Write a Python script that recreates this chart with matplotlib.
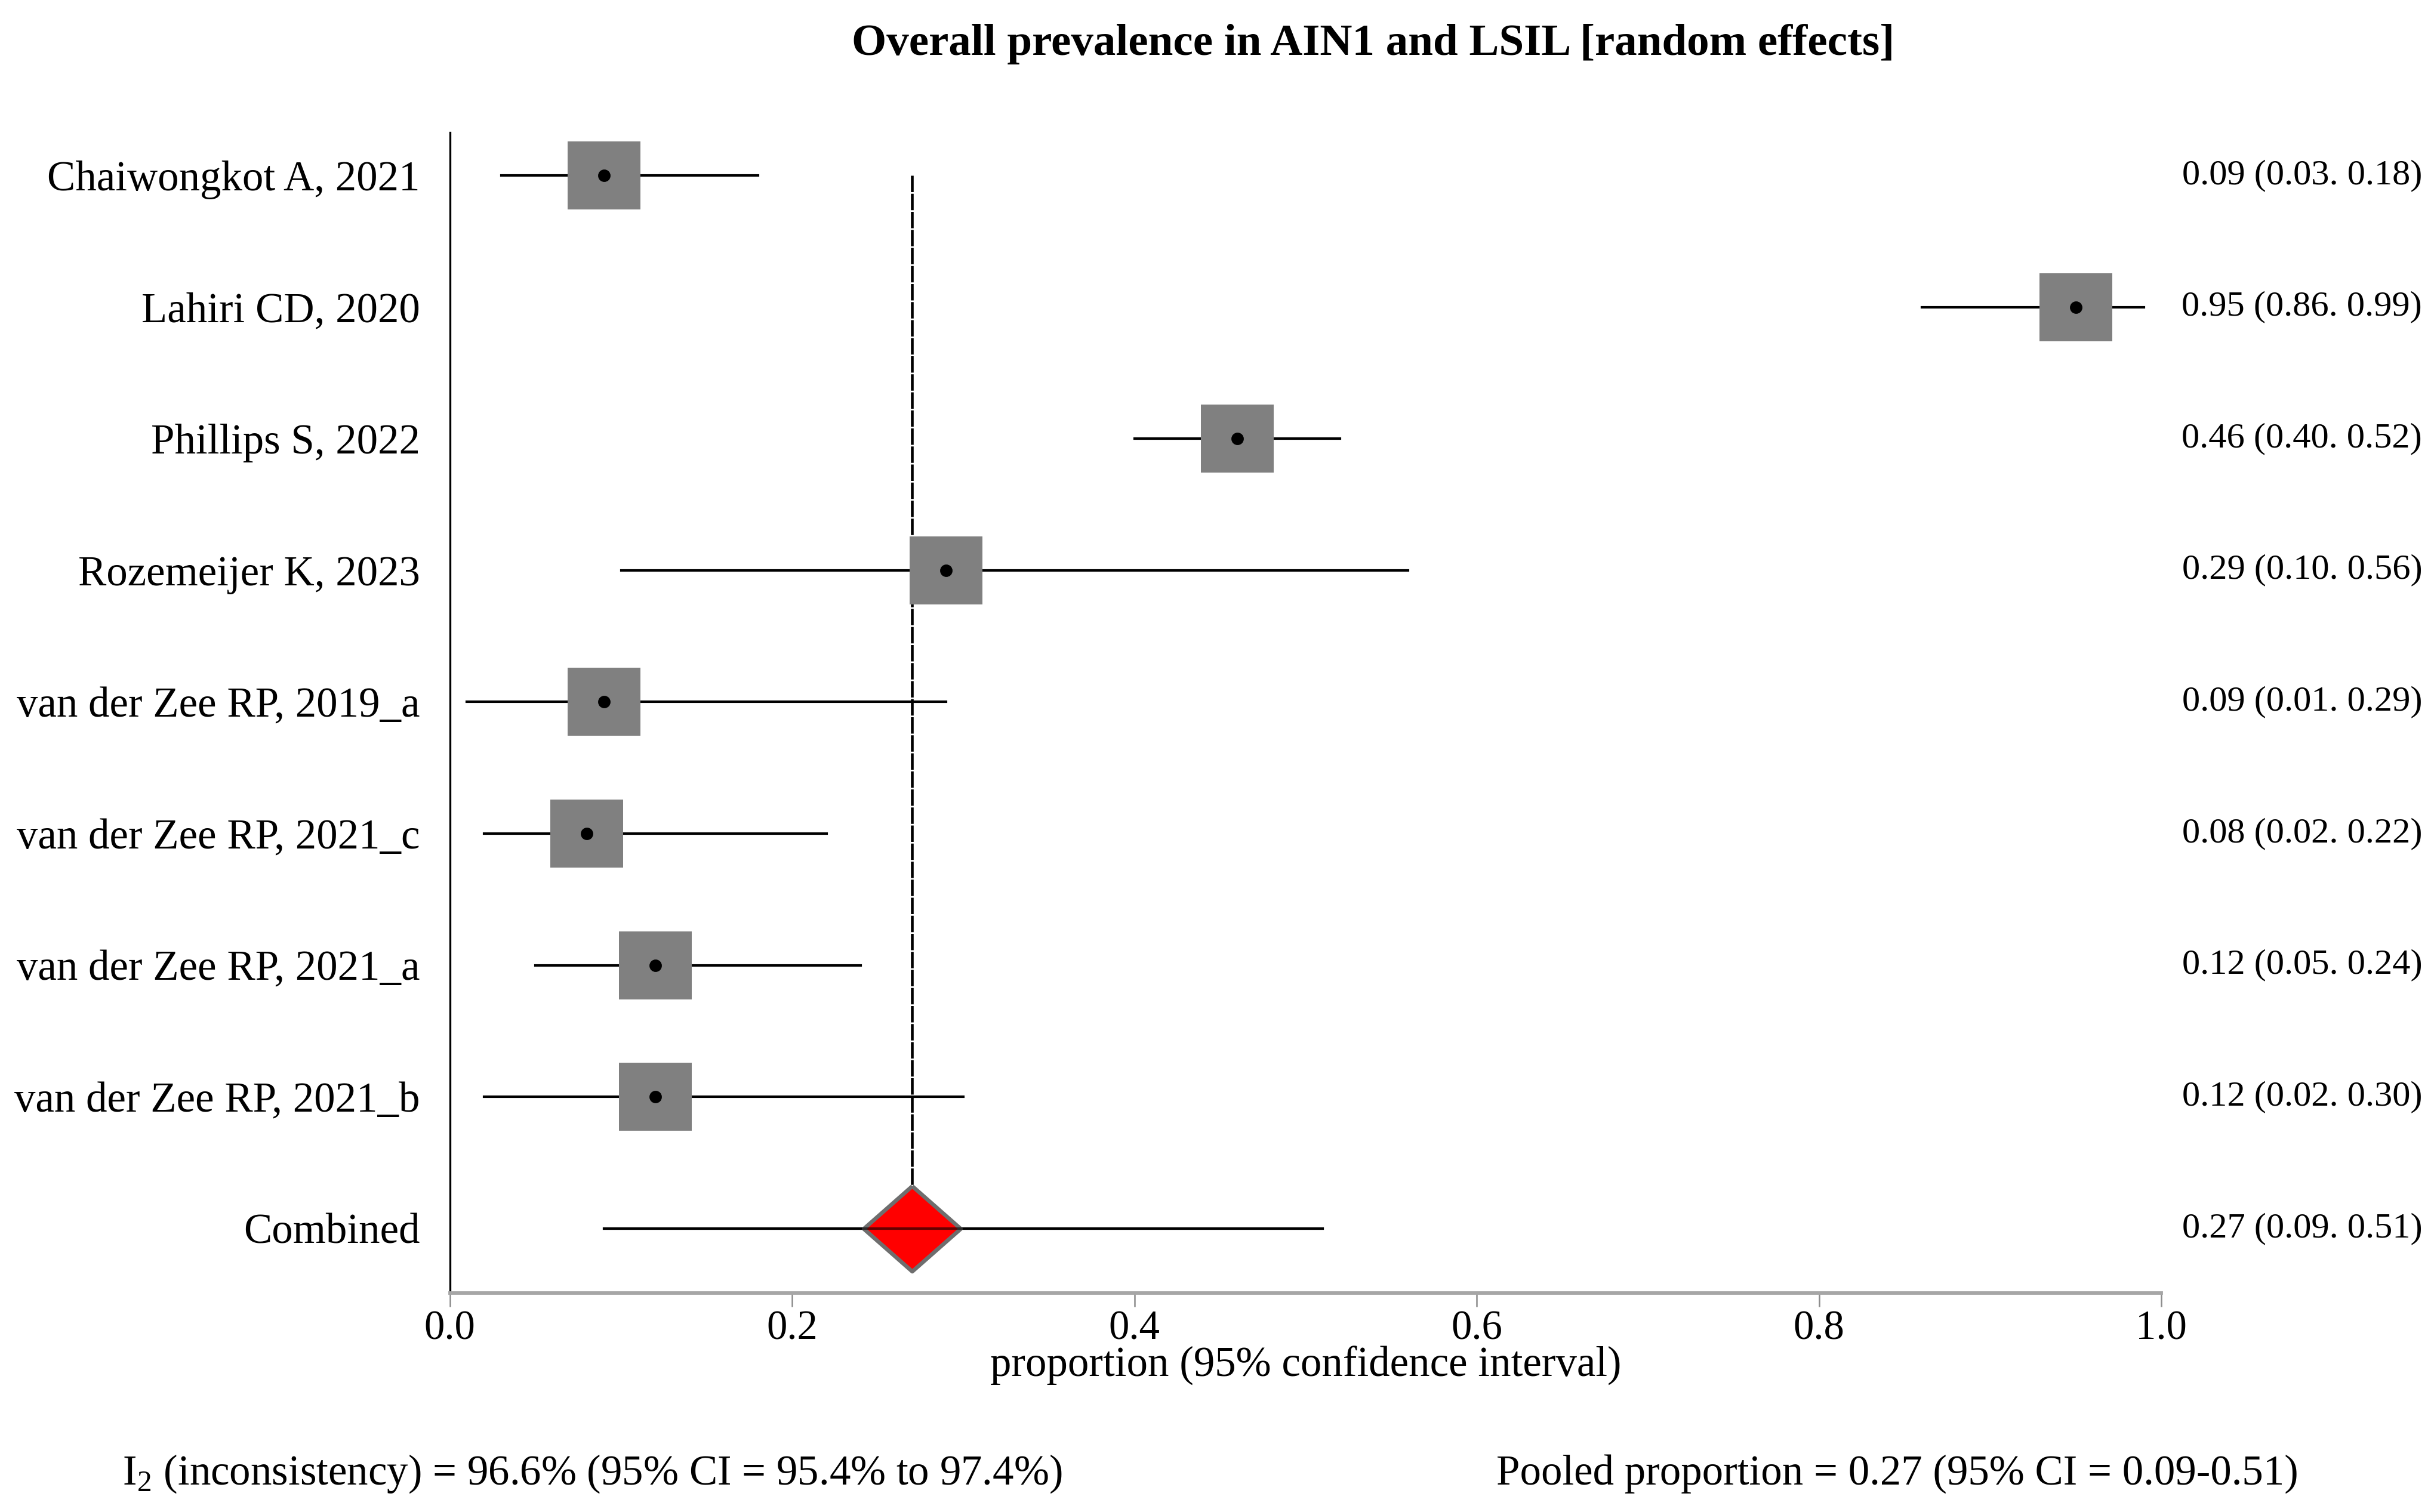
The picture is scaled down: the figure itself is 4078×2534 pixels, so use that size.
"""Forest plot: overall prevalence in AIN1 and LSIL (random effects)."""
import matplotlib
matplotlib.use("Agg")
import matplotlib.pyplot as plt
import matplotlib.transforms as mtransforms

plt.rcParams["font.family"] = ["Liberation Serif", "DejaVu Serif"]
plt.rcParams["mathtext.fontset"] = "custom"
plt.rcParams["mathtext.rm"] = "Liberation Serif"

# Study data (proportion, lower and upper 95% CI)
studies = [
    "Chaiwongkot A, 2021",
    "Lahiri CD, 2020",
    "Phillips S, 2022",
    "Rozemeijer K, 2023",
    "van der Zee RP, 2019_a",
    "van der Zee RP, 2021_c",
    "van der Zee RP, 2021_a",
    "van der Zee RP, 2021_b",
]
est = [0.09, 0.95, 0.46, 0.29, 0.09, 0.08, 0.12, 0.12]
lower = [0.03, 0.86, 0.40, 0.10, 0.01, 0.02, 0.05, 0.02]
upper = [0.18, 0.99, 0.52, 0.56, 0.29, 0.22, 0.24, 0.30]

pooled_label = "Combined"
pooled_est = 0.27
pooled_lower = 0.09
pooled_upper = 0.51

x_ticks = [0.0, 0.2, 0.4, 0.6, 0.8, 1.0]
i2_text = r"I$_{\mathrm{2}}$ (inconsistency) = 96.6% (95% CI = 95.4% to 97.4%)"
pooled_text = "Pooled proportion = 0.27 (95% CI = 0.09-0.51)"

FS = 17

# slightly wider than tall box, and a flattened diamond
box_marker = [(-1, -0.93), (1, -0.93), (1, 0.93), (-1, 0.93), (-1, -0.93)]
diamond_marker = [(0, 0.88), (1, 0), (0, -0.88), (-1, 0), (0, 0.88)]

fig = plt.figure(figsize=(4079 / 300, 2534 / 300), dpi=300)
ax = fig.add_axes([0.1848, 0.1448, 0.8877 - 0.1848, 0.9124 - 0.1448])

rows = list(range(len(studies)))
pooled_row = len(studies)

# study CIs, boxes and point dots
for r, lo, hi in zip(rows, lower, upper):
    ax.plot([lo, hi], [r, r], color="black", lw=1.0, zorder=2)
ax.plot(est, rows, linestyle="none", marker=box_marker, markersize=29.5,
        color="#808080", markeredgewidth=0, zorder=3)
ax.plot(est, rows, linestyle="none", marker="o", markersize=4,
        color="black", zorder=4)

# pooled estimate line and diamond
ax.plot([pooled_est, pooled_est], [rows[0], pooled_row], color="black",
        lw=1.1, dashes=(6, 0.6), zorder=1)
ax.plot([pooled_lower, pooled_upper], [pooled_row, pooled_row],
        color="black", lw=1.0, zorder=2)
ax.plot([pooled_est], [pooled_row], linestyle="none", marker=diamond_marker,
        markersize=39, color="#ff0000", markeredgecolor="#6e6e6e",
        markeredgewidth=1.6, zorder=5)
ax.plot([pooled_lower, pooled_upper], [pooled_row, pooled_row],
        color="black", lw=1.0, alpha=0.6, zorder=6)

ax.set_xlim(0, 1.0)
ax.set_ylim(pooled_row + 0.49, -0.326)

ax.set_yticks(rows + [pooled_row], studies + [pooled_label])
ax.tick_params(axis="y", length=0, pad=12, labelsize=FS)
ax.set_xticks(x_ticks, [f"{t:.1f}" for t in x_ticks])
ax.tick_params(axis="x", length=5.5, width=0.6, color="#8c8c8c",
               labelsize=16.5, pad=1.5)

for side in ("top", "right"):
    ax.spines[side].set_visible(False)
ax.spines["left"].set_color("black")
ax.spines["left"].set_linewidth(0.8)
ax.spines["bottom"].set_color("#a6a6a6")
ax.spines["bottom"].set_linewidth(1.4)

ax.set_xlabel("proportion (95% confidence interval)", fontsize=FS, labelpad=-1)

# right-hand estimate labels
trans = mtransforms.blended_transform_factory(fig.transFigure, ax.transData)
all_est = est + [pooled_est]
all_lo = lower + [pooled_lower]
all_hi = upper + [pooled_upper]
for r, e, lo, hi in zip(rows + [pooled_row], all_est, all_lo, all_hi):
    ax.text(0.9949, r, f"{e:.2f} ({lo:.2f}. {hi:.2f})", transform=trans,
            ha="right", va="center", fontsize=14.5)

fig.text(0.564, 0.9637, "Overall prevalence in AIN1 and LSIL [random effects]",
         ha="center", va="baseline", fontsize=18, fontweight="bold")
fig.text(0.0503, 0.0182, i2_text, ha="left", va="baseline", fontsize=FS)
fig.text(0.944, 0.0182, pooled_text, ha="right", va="baseline", fontsize=FS)

fig.savefig("out.png", dpi=300)
